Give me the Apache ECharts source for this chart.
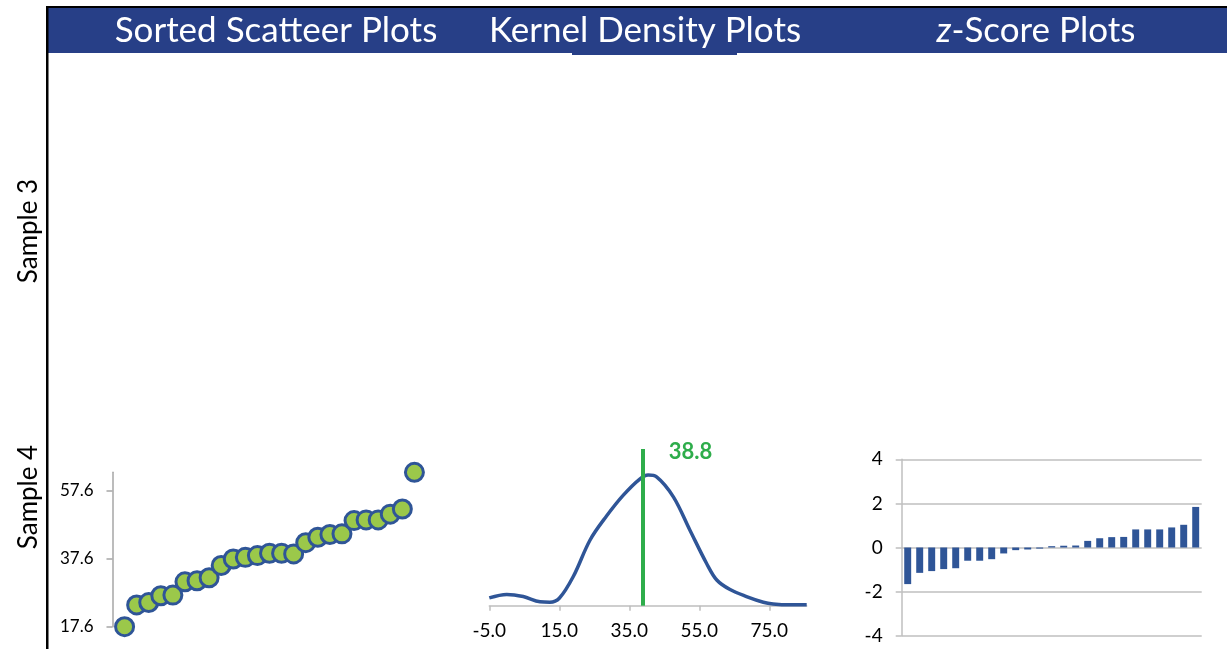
<!DOCTYPE html>
<html>
<head>
<meta charset="utf-8">
<script src="https://cdn.jsdelivr.net/npm/echarts@6/dist/echarts.min.js"></script>
<style>
    html, body { margin: 0; padding: 0; background: #fff; }
    #main { width: 1227px; height: 649px; }
</style>
</head>
<body>
<div id="main"></div>
<script>
// sample 4, sorted values
let sortedVals = [17.6, 24.0, 24.7, 26.7, 26.9, 30.8, 31.1, 32.0, 35.6, 37.5, 38.0, 38.5, 39.2,
    39.2, 39.0, 42.3, 43.9, 44.7, 44.9, 48.8, 49.0, 49.0, 50.7, 52.2, 63.0];
let scatterTicks = [17.6, 37.6, 57.6];

// kernel density curve (x, density)
let kdeX = [-5, 0, 4.7, 9.5, 12.3, 15, 19, 23.8, 28.5, 33.3, 38, 40.4, 42.8, 47.6, 52.3, 57.1,
    60, 63.8, 68.5, 73.3, 76.1, 80.9, 85.7];
let kdeY = [0.0018, 0.0026, 0.0021, 0.0009, 0.0008, 0.0017, 0.0067, 0.0151, 0.0206, 0.0254, 0.0291,
    0.0300, 0.0296, 0.0250, 0.0174, 0.0097, 0.0059, 0.0037, 0.0021, 0.0008, 0.0004, 0.0002, 0.0002];
let kdeTicks = [-5, 15, 35, 55, 75];
let meanVal = 38.8;

// z-scores
let zScores = [-1.66, -1.15, -1.07, -0.98, -0.94, -0.60, -0.60, -0.53, -0.27, -0.12, -0.09, -0.05,
    0.06, 0.08, 0.09, 0.30, 0.42, 0.47, 0.48, 0.82, 0.82, 0.82, 0.91, 1.03, 1.84];

let headers = ['Sorted Scatteer Plots', 'Kernel Density Plots', '{i|z}-Score Plots'];
let rowLabels = ['Sample 3', 'Sample 4'];

let blue = '#2F5597',
    band = '#273F87',
    green = '#2EAD4B',
    gray = '#BFBFBF',
    font = 'Lato';

let chart = echarts.init(document.getElementById('main'));

let headerX = [276, 645, 1036];
let graphics = [
    { type: 'rect', shape: { x: 46, y: 6, width: 1181, height: 2 }, style: { fill: '#000' } },
    { type: 'rect', shape: { x: 48, y: 8, width: 1179, height: 45 }, style: { fill: band } },
    { type: 'rect', shape: { x: 572, y: 53, width: 165, height: 2 }, style: { fill: band } },
    { type: 'rect', shape: { x: 46, y: 6, width: 2.5, height: 643 }, style: { fill: '#000' } }
];
headers.forEach((h, i) => {
    graphics.push({
        type: 'text', x: headerX[i], y: 31,
        style: {
            text: h, fill: '#fff', font: '35px ' + font, align: 'center', verticalAlign: 'middle',
            rich: { i: { fontStyle: 'italic', fontSize: 35, fontFamily: font, fill: '#fff' } }
        }
    });
});
[231, 497].forEach((y, i) => {
    graphics.push({
        type: 'text', x: 29, y: y, rotation: Math.PI / 2,
        style: { text: rowLabels[i], fill: '#000', font: '26px ' + font, align: 'center', verticalAlign: 'middle' }
    });
});

let option = {
    animation: false,
    textStyle: { fontFamily: font },
    graphic: graphics,
    grid: [
        { left: 112.5, top: 472.3, width: 314, bottom: 22.3 },
        { left: 489.3, right: 420.3, top: 449, bottom: 43.3 },
        { left: 901.7, width: 300, top: 459.3, bottom: 13.3 }
    ],
    xAxis: [
        { gridIndex: 0, type: 'value', min: 0, max: 26, show: false },
        {
            gridIndex: 1, type: 'value', min: -5, max: 85.7,
            axisLine: { lineStyle: { color: gray, width: 1.5 } },
            axisTick: { customValues: kdeTicks, length: 5, lineStyle: { color: gray, width: 1.5 } },
            axisLabel: { customValues: kdeTicks, formatter: v => v.toFixed(1), fontSize: 19, color: '#000', margin: 16 },
            splitLine: { show: false }
        },
        {
            gridIndex: 2, type: 'category', data: zScores.map((z, i) => i + 1),
            axisLine: { show: false }, axisTick: { show: false }, axisLabel: { show: false }
        }
    ],
    yAxis: [
        {
            gridIndex: 0, type: 'value', min: 17.6, max: 63.0,
            axisLine: { show: true, lineStyle: { color: '#A6A6A6', width: 1.5 } },
            axisTick: { show: true, customValues: scatterTicks, length: 6, lineStyle: { color: '#A6A6A6', width: 1.5 } },
            axisLabel: { customValues: scatterTicks, formatter: v => v.toFixed(1), fontSize: 17, color: '#000', margin: 19 },
            splitLine: { show: false }
        },
        { gridIndex: 1, type: 'value', min: 0, max: 0.036, show: false },
        {
            gridIndex: 2, type: 'value', min: -4, max: 4, interval: 2,
            axisLine: { show: true, lineStyle: { color: gray, width: 1.5 } },
            axisTick: { show: true, length: 6, lineStyle: { color: gray, width: 1.5 } },
            axisLabel: { fontSize: 19, color: '#000', margin: 19 },
            splitLine: { lineStyle: { color: gray, width: 1.5 } }
        }
    ],
    series: [
        {
            type: 'scatter', xAxisIndex: 0, yAxisIndex: 0,
            data: sortedVals.map((v, i) => [i + 1, v]),
            symbolSize: 18, clip: false,
            itemStyle: { color: '#9BC84A', borderColor: blue, borderWidth: 3, opacity: 1 }
        },
        {
            type: 'line', xAxisIndex: 1, yAxisIndex: 1,
            data: kdeX.map((x, i) => [x, kdeY[i]]),
            smooth: 0.35, showSymbol: false,
            lineStyle: { color: blue, width: 3.5 },
            markLine: {
                silent: true, symbol: 'none',
                lineStyle: { color: green, width: 4, type: 'solid' },
                label: {
                    show: true, position: 'end', formatter: p => p.value.toFixed(1),
                    color: green, fontSize: 22, fontWeight: 'bold', offset: [48, 19]
                },
                data: [{ xAxis: meanVal }]
            }
        },
        {
            type: 'bar', xAxisIndex: 2, yAxisIndex: 2,
            data: zScores, barWidth: '58%',
            itemStyle: { color: blue }
        }
    ]
};
chart.setOption(option);
</script>
</body>
</html>
